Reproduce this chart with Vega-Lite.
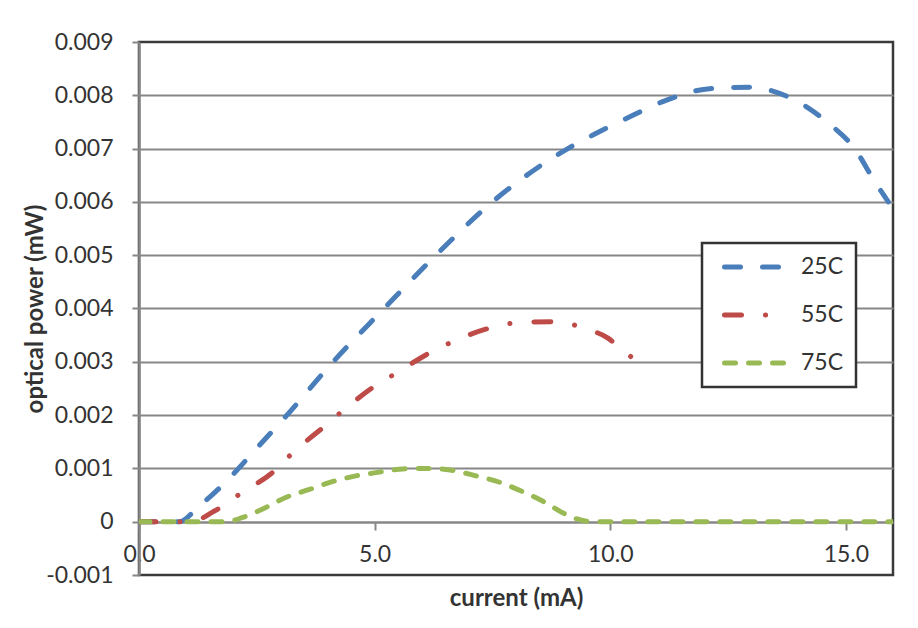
{
  "$schema": "https://vega.github.io/schema/vega-lite/v6.json",
  "width": 754,
  "height": 533,
  "autosize": {"type": "none"},
  "padding": {"left": 139, "top": 42, "right": 25, "bottom": 53},
  "background": "white",
  "config": {
    "view": {"stroke": "#3a3a3a", "strokeWidth": 2.5},
    "font": "Lato"
  },
  "data": {
    "values": [
      {"series": "25C", "current": 0, "power": 0},
      {"series": "25C", "current": 0.85, "power": 0},
      {"series": "25C", "current": 1.25, "power": 0.00027},
      {"series": "25C", "current": 1.9, "power": 0.0008},
      {"series": "25C", "current": 2.5, "power": 0.00138},
      {"series": "25C", "current": 3.14, "power": 0.002},
      {"series": "25C", "current": 4.12, "power": 0.003},
      {"series": "25C", "current": 5.2, "power": 0.004},
      {"series": "25C", "current": 6.3, "power": 0.005},
      {"series": "25C", "current": 7.5, "power": 0.006},
      {"series": "25C", "current": 9.1, "power": 0.007},
      {"series": "25C", "current": 9.6, "power": 0.00724},
      {"series": "25C", "current": 10.35, "power": 0.00757},
      {"series": "25C", "current": 11.17, "power": 0.0079},
      {"series": "25C", "current": 12.06, "power": 0.00812},
      {"series": "25C", "current": 12.95, "power": 0.00815},
      {"series": "25C", "current": 13.8, "power": 0.00796},
      {"series": "25C", "current": 14.6, "power": 0.0075},
      {"series": "25C", "current": 15.2, "power": 0.00698},
      {"series": "25C", "current": 15.6, "power": 0.0064},
      {"series": "25C", "current": 15.9, "power": 0.006},
      {"series": "55C", "current": 0, "power": 0},
      {"series": "55C", "current": 1.1, "power": 0},
      {"series": "55C", "current": 1.6, "power": 0.0002},
      {"series": "55C", "current": 2.19, "power": 0.00055},
      {"series": "55C", "current": 2.8, "power": 0.0009},
      {"series": "55C", "current": 3.27, "power": 0.0013},
      {"series": "55C", "current": 3.95, "power": 0.0018},
      {"series": "55C", "current": 4.35, "power": 0.0021},
      {"series": "55C", "current": 4.93, "power": 0.0025},
      {"series": "55C", "current": 5.52, "power": 0.00282},
      {"series": "55C", "current": 6.11, "power": 0.00314},
      {"series": "55C", "current": 6.77, "power": 0.00342},
      {"series": "55C", "current": 7.43, "power": 0.00363},
      {"series": "55C", "current": 8.13, "power": 0.00374},
      {"series": "55C", "current": 8.83, "power": 0.00375},
      {"series": "55C", "current": 9.51, "power": 0.00361},
      {"series": "55C", "current": 9.96, "power": 0.00344},
      {"series": "55C", "current": 10.2, "power": 0.00326},
      {"series": "55C", "current": 10.75, "power": 0.0029},
      {"series": "75C", "current": 0, "power": 0},
      {"series": "75C", "current": 1.87, "power": 0},
      {"series": "75C", "current": 2.2, "power": 0.00008},
      {"series": "75C", "current": 2.7, "power": 0.00027},
      {"series": "75C", "current": 3.1, "power": 0.00045},
      {"series": "75C", "current": 3.6, "power": 0.0006},
      {"series": "75C", "current": 4.1, "power": 0.00075},
      {"series": "75C", "current": 4.6, "power": 0.00086},
      {"series": "75C", "current": 5.1, "power": 0.00093},
      {"series": "75C", "current": 5.6, "power": 0.00099},
      {"series": "75C", "current": 6.1, "power": 0.001},
      {"series": "75C", "current": 6.6, "power": 0.00097},
      {"series": "75C", "current": 7.15, "power": 0.00086},
      {"series": "75C", "current": 7.65, "power": 0.00074},
      {"series": "75C", "current": 8.1, "power": 0.00058},
      {"series": "75C", "current": 8.6, "power": 0.00037},
      {"series": "75C", "current": 9.03, "power": 0.00015},
      {"series": "75C", "current": 9.5, "power": 0.00001},
      {"series": "75C", "current": 9.8, "power": 0},
      {"series": "75C", "current": 16, "power": 0}
    ]
  },
  "mark": {"type": "line", "strokeWidth": 5, "strokeCap": "round", "interpolate": "monotone", "clip": true},
  "encoding": {
    "x": {
      "field": "current",
      "type": "quantitative",
      "scale": {"domain": [0, 16], "nice": false, "zero": false},
      "axis": {
        "values": [0, 5, 10, 15],
        "format": ".1f",
        "grid": false,
        "offset": -53,
        "labelFlush": false,
        "domainColor": "#878787",
        "domainWidth": 2,
        "tickColor": "#878787",
        "tickWidth": 2,
        "tickSize": 8,
        "labelPadding": 13,
        "labelFont": "Lato",
        "labelFontSize": 23,
        "labelColor": "#333333",
        "title": "current (mA)",
        "titleFont": "Lato",
        "titleFontSize": 24,
        "titleFontWeight": "bold",
        "titleColor": "#333333",
        "titleX": 377,
        "titleY": 76,
        "titleAlign": "center",
        "titleBaseline": "middle"
      }
    },
    "y": {
      "field": "power",
      "type": "quantitative",
      "scale": {"domain": [-0.001, 0.009], "nice": false, "zero": false},
      "axis": {
        "values": [-0.001, 0, 0.001, 0.002, 0.003, 0.004, 0.005, 0.006, 0.007, 0.008, 0.009],
        "labelExpr": "datum.value == 0 ? '0' : replace(format(datum.value, '.3f'), '\u2212', '-')",
        "grid": true,
        "gridColor": {"condition": {"test": "datum.value > 0.0085 || datum.value < -0.0005", "value": "transparent"}, "value": "#878787"},
        "gridWidth": 2,
        "domainColor": "#878787",
        "domainWidth": 2.5,
        "tickColor": "#878787",
        "tickWidth": 2,
        "tickSize": 7,
        "labelPadding": 19,
        "labelFont": "Lato",
        "labelFontSize": 23,
        "labelColor": "#333333",
        "title": "optical power (mW)",
        "titleFont": "Lato",
        "titleFontSize": 24,
        "titleFontWeight": "bold",
        "titleColor": "#333333",
        "titleAngle": -90,
        "titleX": -104,
        "titleY": 266.5,
        "titleAlign": "center",
        "titleBaseline": "middle"
      }
    },
    "color": {
      "field": "series",
      "type": "nominal",
      "scale": {"domain": ["25C", "55C", "75C"], "range": ["#4a7ebb", "#be4b48", "#98b954"]},
      "legend": {
        "title": null,
        "orient": "none",
        "legendX": 563,
        "legendY": 201,
        "symbolType": "stroke",
        "symbolSize": 4225,
        "symbolStrokeWidth": 5,
        "labelFont": "Lato",
        "labelFontSize": 23,
        "labelColor": "#333333",
        "padding": 12,
        "symbolOffset": 8,
        "strokeColor": "#333333",
        "fillColor": "white",
        "clipHeight": 24,
        "rowPadding": 24,
        "labelOffset": 9,
        "encode": {
          "legend": {"update": {"strokeWidth": {"value": 2.5}}},
          "symbols": {"update": {"strokeCap": {"value": "round"}}}
        }
      }
    },
    "strokeDash": {
      "field": "series",
      "type": "nominal",
      "scale": {"domain": ["25C", "55C", "75C"], "range": [[16, 22], [17, 24, 0.1, 24], [11, 13]]},
      "legend": {
        "title": null,
        "orient": "none",
        "legendX": 563,
        "legendY": 201,
        "symbolType": "stroke",
        "symbolSize": 4225,
        "symbolStrokeWidth": 5,
        "labelFont": "Lato",
        "labelFontSize": 23,
        "labelColor": "#333333",
        "padding": 12,
        "symbolOffset": 8,
        "strokeColor": "#333333",
        "fillColor": "white",
        "clipHeight": 24,
        "rowPadding": 24,
        "labelOffset": 9,
        "encode": {
          "legend": {"update": {"strokeWidth": {"value": 2.5}}},
          "symbols": {"update": {"strokeCap": {"value": "round"}}}
        }
      }
    }
  }
}
